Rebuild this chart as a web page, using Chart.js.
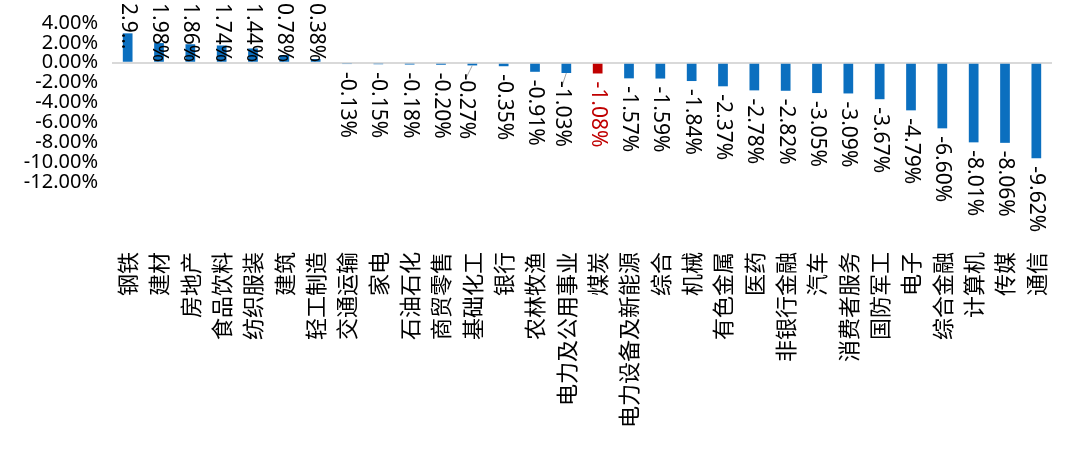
<!DOCTYPE html>
<html>
<head>
<meta charset="utf-8">
<script src="https://cdn.jsdelivr.net/npm/chart.js@4"></script>
<style>
    html, body { margin: 0; padding: 0; background: #fff; }
    #wrap { width: 1080px; height: 459px; }
</style>
</head>
<body>
<div id="wrap"><canvas id="industry"></canvas></div>
<script>
const categories = ['钢铁', '建材', '房地产', '食品饮料', '纺织服装', '建筑', '轻工制造', '交通运输', '家电', '石油石化',
    '商贸零售', '基础化工', '银行', '农林牧渔', '电力及公用事业', '煤炭', '电力设备及新能源', '综合', '机械', '有色金属',
    '医药', '非银行金融', '汽车', '消费者服务', '国防军工', '电子', '综合金融', '计算机', '传媒', '通信'];
const changes = [2.96, 1.98, 1.86, 1.74, 1.44, 0.78, 0.38, -0.13, -0.15, -0.18,
    -0.20, -0.27, -0.35, -0.91, -1.03, -1.08, -1.57, -1.59, -1.84, -2.37,
    -2.78, -2.82, -3.05, -3.09, -3.67, -4.79, -6.60, -8.01, -8.06, -9.62];
const yTicks = [4, 2, 0, -2, -4, -6, -8, -10, -12];
const highlight = '煤炭';

const BLUE = '#0B6FBF';
const RED = '#C00000';
const numFont = '"Noto Sans", sans-serif';

// first label is cut short in the original
const shownText = changes.map((v, i) => i === 0 ? '2.9…' : v.toFixed(2) + '%');
// a couple of labels were dragged aside in the original, with a leader line
const nudged = { '基础化工': -6, '电力及公用事业': -4 };

const barLabels = {
    id: 'barLabels',
    afterDatasetsDraw(chart) {
        const ctx = chart.ctx;
        const meta = chart.getDatasetMeta(0);
        ctx.save();
        ctx.font = '21px ' + numFont;
        ctx.textAlign = 'left';
        ctx.textBaseline = 'middle';
        meta.data.forEach((bar, i) => {
            const v = changes[i];
            const yStart = v >= 0 ? 3 : bar.y + 8;
            const dx = nudged[categories[i]] || 0;
            if (dx) {
                ctx.strokeStyle = '#A6A6A6';
                ctx.lineWidth = 1;
                ctx.beginPath();
                ctx.moveTo(bar.x, bar.y);
                ctx.lineTo(bar.x + dx, yStart + 4);
                ctx.stroke();
            }
            ctx.save();
            ctx.translate(bar.x + dx, yStart);
            ctx.rotate(Math.PI / 2);
            ctx.fillStyle = categories[i] === highlight ? RED : '#000';
            ctx.fillText(shownText[i], 0, 0);
            ctx.restore();
        });
        ctx.restore();
    }
};

const ctx = document.getElementById('industry').getContext('2d');
new Chart(ctx, {
    type: 'bar',
    data: {
        labels: categories,
        datasets: [{
            data: changes,
            backgroundColor: categories.map(c => c === highlight ? RED : BLUE),
            barPercentage: 0.31,
            categoryPercentage: 1
        }]
    },
    options: {
        responsive: true,
        maintainAspectRatio: false,
        animation: false,
        layout: {
            padding: { top: 23, right: 28, bottom: 0, left: 0 }
        },
        plugins: {
            legend: { display: false },
            tooltip: { enabled: false }
        },
        scales: {
            x: {
                grid: { display: false, drawTicks: false },
                border: { display: false },
                ticks: {
                    autoSkip: false,
                    minRotation: 90,
                    maxRotation: 90,
                    padding: 70,
                    color: '#000',
                    font: { family: '"Noto Sans CJK SC", sans-serif', size: 22 }
                },
                afterFit: function (scale) {
                    scale.height = 277;
                    scale.paddingLeft = 0;
                    scale.paddingRight = 0;
                }
            },
            y: {
                min: -12,
                max: 4,
                afterBuildTicks: function (scale) {
                    scale.ticks = yTicks.map(v => ({ value: v }));
                },
                grid: {
                    drawTicks: false,
                    color: c => c.tick && c.tick.value === 0 ? '#D9D9D9' : 'rgba(0,0,0,0)',
                    lineWidth: 2
                },
                border: { display: false },
                ticks: {
                    autoSkip: false,
                    padding: 14,
                    color: '#000',
                    font: { family: numFont, size: 20 },
                    callback: v => v.toFixed(2) + '%'
                },
                afterFit: function (scale) {
                    scale.width = 112;
                    scale.paddingTop = 0;
                    scale.paddingBottom = 0;
                }
            }
        }
    },
    plugins: [barLabels]
});
</script>
</body>
</html>
